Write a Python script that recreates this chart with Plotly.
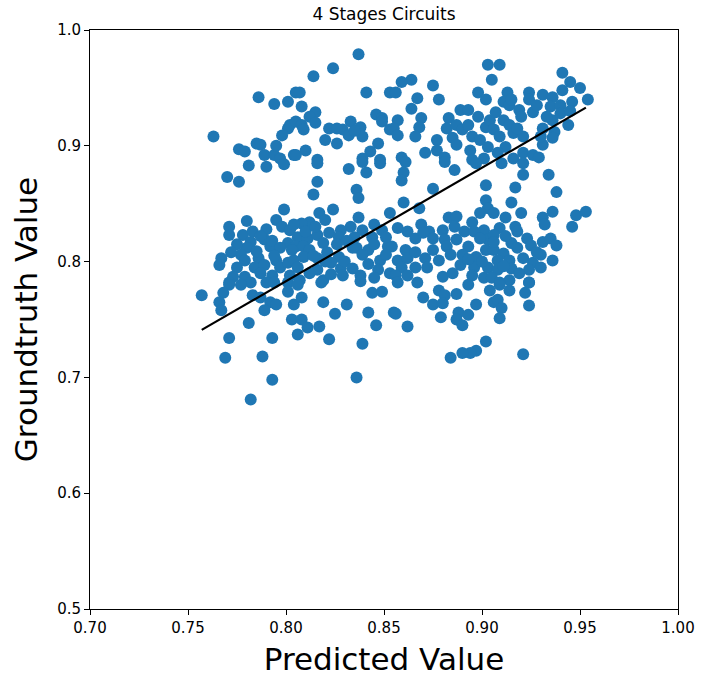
import plotly.graph_objects as go

# Scatter points (predicted, groundtruth)
pred = [
0.786,0.794,0.801,0.805,0.763,0.801,0.798,0.802,0.776,0.779,0.785,0.787,0.789,0.794,0.797,0.804,
0.837,0.824,0.814,0.841,0.807,0.808,0.815,0.812,0.805,0.808,0.809,0.822,0.833,0.829,0.832,0.838,0.839,0.835,
0.846,0.849,0.853,0.849,0.853,0.826,0.847,0.810,0.805,0.816,0.843,0.839,0.848,
0.903,0.905,0.864,0.859,0.856,0.875,0.867,0.878,0.864,0.898,0.902,0.889,0.893,0.883,0.869,0.857,0.855,0.857,
0.868,0.866,0.882,0.887,0.890,0.895,0.902,0.904,0.885,0.887,0.877,0.871,0.877,0.881,0.859,0.894,0.899,0.903,0.901,0.895,
0.909,0.941,0.945,0.950,0.954,0.913,0.924,0.931,0.936,0.941,0.924,0.911,0.914,0.926,0.919,0.935,0.940,0.907,0.911,0.914,
0.936,0.944,0.931,0.937,0.906,0.909,0.916,0.921,0.936,0.931,0.912,0.908,0.921,0.926,0.929,0.916,
0.781,0.790,0.799,0.770,0.776,0.799,0.780,0.771,0.771,0.778,0.790,0.795,0.798,0.802,0.782,0.780,0.792,0.801,0.789,
0.767,0.766,0.777,0.779,0.775,0.786,0.784,0.789,0.795,0.797,0.801,0.773,0.779,0.787,0.793,0.802,0.771,0.782,0.790,0.801,
0.816,0.832,0.839,0.841,0.848,0.816,0.814,0.836,0.837,0.824,0.817,0.820,0.812,0.808,0.804,0.853,0.837,0.833,0.828,0.839,
0.845,0.849,0.827,0.835,0.844,0.806,0.811,0.816,0.819,0.805,0.809,0.812,0.821,0.836,0.842,0.852,0.804,0.809,0.816,0.827,
0.839,0.823,0.848,0.806,0.816,0.828,0.847,0.853,0.829,0.838,0.807,0.819,0.845,
0.861,0.860,0.859,0.881,0.886,0.897,0.875,0.902,0.860,0.868,0.902,0.903,0.899,0.883,0.887,0.895,0.857,0.862,0.869,0.873,
0.880,0.886,0.891,0.901,0.866,0.875,0.881,0.887,0.903,0.854,0.882,0.893,0.861,0.902,0.857,0.862,0.871,0.878,0.890,0.897,
0.859,0.866,0.872,0.889,0.896,0.903,0.856,0.862,0.880,0.885,0.895,0.901,0.867,
0.910,0.921,0.921,0.934,0.938,0.917,0.915,0.920,0.931,0.936,0.932,0.948,0.953,0.946,0.906,0.912,0.909,0.917,0.906,0.923,
0.931,0.935,0.938,0.915,0.918,0.906,0.911,0.930,0.936,0.921,0.914,0.908,0.926,0.930,0.924,0.915,0.908,0.905,0.914,0.924,0.909,
0.757,0.771,0.768,0.766,0.767,0.777,0.783,0.787,0.792,0.795,0.789,0.801,0.804,0.803,0.781,0.771,0.793,0.769,0.788,0.793,0.782,0.794,
0.818,0.806,0.808,0.819,0.831,0.825,0.842,0.844,0.849,0.855,0.846,0.808,0.811,0.817,0.806,0.822,0.839,0.836,0.838,
0.857,0.893,0.904,0.906,0.870,0.878,0.881,0.875,0.880,0.887,0.897,0.856,0.862,0.879,0.888,0.893,0.887,0.890,0.902,0.897,0.894,0.890,0.884,
0.909,0.914,0.908,0.910,0.909,0.924,0.922,0.924,0.921,
0.783,0.787,0.793,0.797,0.785,0.775,0.772,0.794,0.803,0.810,0.815,0.822,0.826,0.831,0.834,0.814,0.820,0.830,0.842,0.851,
0.845,0.851,0.812,0.823,0.834,
0.896,0.899,0.906,0.912,0.918,0.925,0.928,0.900,0.911,0.919,0.884,0.875,0.866,0.870,0.893,
0.915,0.920,0.928,0.933,0.940,0.946,0.918,0.930,0.945,0.898,0.893,
0.795,0.820,0.826,0.815,
]
truth = [
0.942,0.936,0.938,0.946,0.908,0.915,0.909,0.918,0.897,0.895,0.902,0.901,0.892,0.892,0.889,0.892,
0.979,0.967,0.960,0.946,0.946,0.934,0.929,0.925,0.921,0.918,0.914,0.915,0.921,0.914,0.909,0.916,0.908,0.913,
0.927,0.924,0.946,0.921,0.914,0.902,0.902,0.896,0.892,0.888,0.895,0.889,0.888,
0.970,0.957,0.957,0.955,0.946,0.952,0.941,0.940,0.932,0.946,0.940,0.931,0.931,0.924,0.924,0.922,0.915,0.909,
0.916,0.908,0.915,0.918,0.914,0.908,0.916,0.922,0.907,0.901,0.905,0.894,0.896,0.890,0.890,0.896,0.905,0.899,0.889,0.888,
0.970,0.963,0.955,0.950,0.940,0.946,0.946,0.944,0.942,0.948,0.940,0.938,0.935,0.929,0.931,0.934,0.935,0.929,0.922,0.918,
0.922,0.918,0.915,0.912,0.914,0.908,0.911,0.908,0.907,0.901,0.899,0.894,0.894,0.892,0.890,0.889,
0.883,0.882,0.884,0.873,0.869,0.845,0.835,0.830,0.823,0.823,0.828,0.836,0.830,0.827,0.817,0.812,0.813,0.816,0.819,
0.803,0.797,0.806,0.801,0.795,0.803,0.795,0.797,0.801,0.795,0.799,0.787,0.787,0.790,0.788,0.788,0.782,0.782,0.782,0.782,
0.885,0.880,0.886,0.877,0.885,0.869,0.858,0.862,0.855,0.845,0.842,0.836,0.834,0.833,0.832,0.842,0.838,0.830,0.827,0.827,
0.832,0.827,0.821,0.821,0.821,0.821,0.820,0.823,0.816,0.813,0.813,0.810,0.808,0.812,0.810,0.813,0.801,0.804,0.803,0.804,
0.806,0.799,0.801,0.795,0.793,0.794,0.793,0.790,0.788,0.788,0.784,0.784,0.786,
0.886,0.877,0.870,0.886,0.879,0.885,0.863,0.866,0.851,0.846,0.853,0.846,0.842,0.838,0.839,0.834,0.829,0.826,0.832,0.826,
0.827,0.830,0.826,0.827,0.820,0.820,0.819,0.819,0.819,0.813,0.813,0.813,0.810,0.810,0.801,0.803,0.803,0.801,0.806,0.804,
0.795,0.795,0.795,0.797,0.795,0.795,0.788,0.788,0.787,0.790,0.788,0.786,0.782,
0.885,0.885,0.875,0.875,0.860,0.864,0.851,0.842,0.838,0.843,0.832,0.840,0.843,0.830,0.842,0.838,0.829,0.830,0.823,0.820,
0.817,0.820,0.814,0.816,0.812,0.810,0.807,0.806,0.801,0.803,0.801,0.801,0.799,0.795,0.793,0.794,0.793,0.786,0.784,0.782,0.782,
0.771,0.780,0.773,0.765,0.758,0.780,0.771,0.769,0.765,0.763,0.758,0.774,0.763,0.750,0.747,0.734,0.734,0.717,0.718,0.698,0.681,0.782,
0.782,0.780,0.769,0.765,0.763,0.755,0.756,0.773,0.774,0.756,0.745,0.750,0.743,0.744,0.737,0.733,0.729,0.700,0.783,
0.782,0.780,0.775,0.765,0.769,0.775,0.771,0.763,0.764,0.772,0.763,0.755,0.744,0.752,0.756,0.754,0.750,0.745,0.731,0.723,0.721,0.721,0.717,
0.780,0.775,0.767,0.760,0.751,0.782,0.773,0.762,0.720,
0.826,0.822,0.818,0.812,0.809,0.815,0.808,0.805,0.810,0.826,0.830,0.825,0.815,0.818,0.812,0.805,0.800,0.800,0.798,0.806,
0.815,0.821,0.790,0.789,0.794,
0.826,0.820,0.817,0.822,0.826,0.814,0.808,0.800,0.796,0.790,0.806,0.810,0.808,0.825,0.802,
0.940,0.925,0.935,0.925,0.928,0.938,0.915,0.908,0.930,0.925,0.918,
0.900,0.905,0.915,0.920,
]

# Fitted line endpoints
line_x = [0.757, 0.953]
line_y = [0.741, 0.933]

x_ticks = [0.70, 0.75, 0.80, 0.85, 0.90, 0.95, 1.00]
y_ticks = [0.5, 0.6, 0.7, 0.8, 0.9, 1.0]

fig = go.Figure()
fig.add_trace(go.Scatter(
    x=pred, y=truth, mode="markers",
    marker=dict(color="#1f77b4", size=12, line=dict(width=0)),
    showlegend=False,
))
fig.add_trace(go.Scatter(
    x=line_x, y=line_y, mode="lines",
    line=dict(color="black", width=2.2),
    showlegend=False,
))

axis_common = dict(
    showgrid=False, zeroline=False, showline=True, linecolor="black", linewidth=1,
    mirror=True, ticks="outside", ticklen=5, tickcolor="black", tickwidth=1,
    tickfont=dict(size=15, color="black"), automargin=False,
)
fig.update_xaxes(range=[0.70, 1.00], tickvals=x_ticks,
                 ticktext=[f"{v:.2f}" for v in x_ticks],
                 title=dict(text="Predicted Value", font=dict(size=31, color="black"), standoff=12),
                 **axis_common)
fig.update_yaxes(range=[0.5, 1.0], tickvals=y_ticks,
                 ticktext=[f"{v:.1f}" for v in y_ticks],
                 title=dict(text="Groundtruth Value", font=dict(size=31, color="black"), standoff=10),
                 **axis_common)

W, H = 701, 679
fig.update_layout(
    width=W, height=H,
    margin=dict(l=90, r=23, t=30, b=70),
    paper_bgcolor="white", plot_bgcolor="white",
    font=dict(family="DejaVu Sans", color="black"),
    title=dict(text="4 Stages Circuits", x=384 / W, xanchor="center",
               y=1 - 14 / H, yanchor="middle", font=dict(size=17, color="black")),
)

# remove the default 8px page margin so the figure sits at the window's corner
fig.write_html("out.html",
               config={"displayModeBar": False},
               post_script="document.body.style.margin='0';document.body.style.overflow='hidden';")
